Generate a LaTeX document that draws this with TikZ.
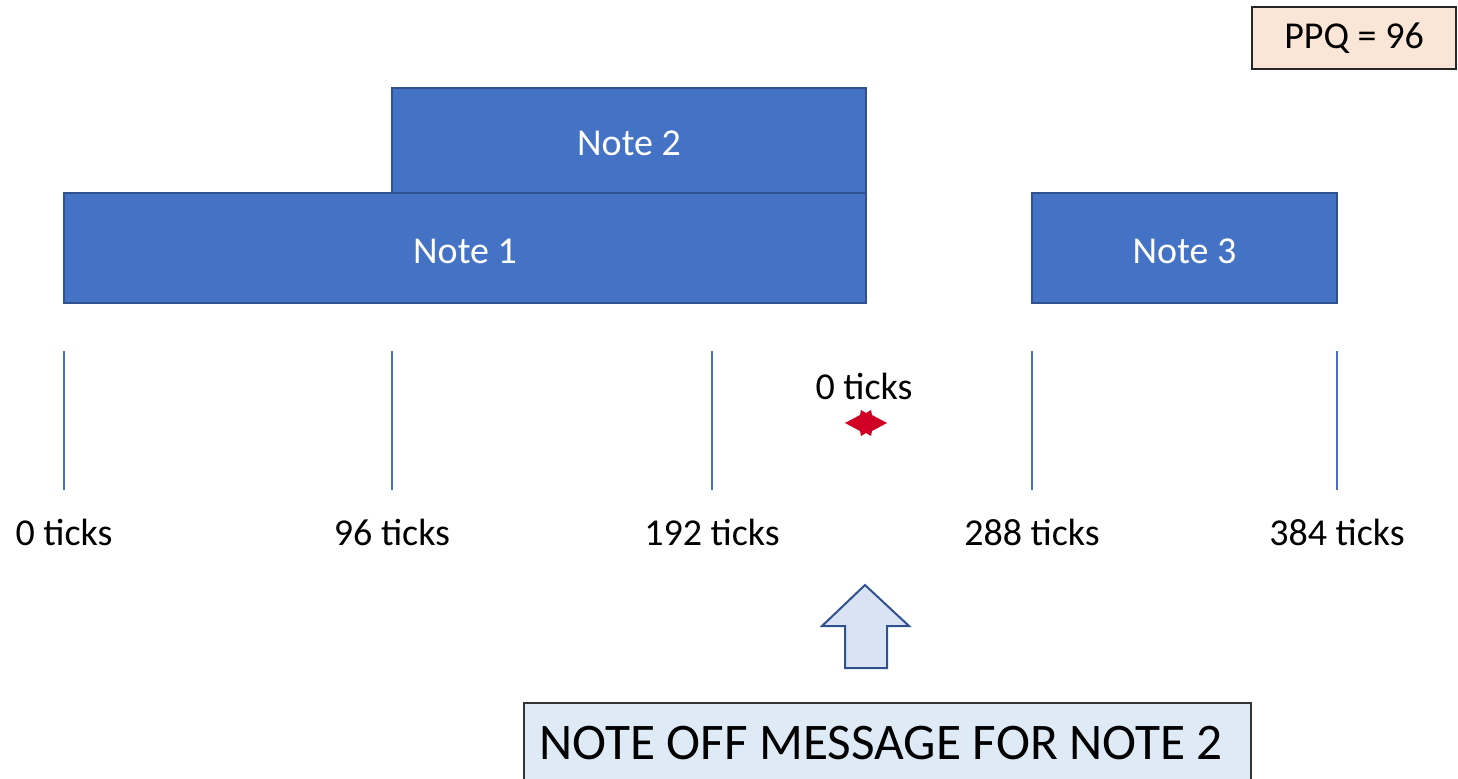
\documentclass[tikz,border=0pt]{standalone}
\usepackage{fontspec}
\setmainfont{Carlito}
\definecolor{noteblue}{HTML}{4472C4}
\definecolor{notedark}{HTML}{2F528F}
\definecolor{arrowfill}{HTML}{DAE3F3}
\definecolor{msgfill}{HTML}{DEEBF7}
\definecolor{ppqfill}{HTML}{FBE5D6}
\definecolor{zred}{RGB}{208,0,36}
\begin{document}
\begin{tikzpicture}[x=0.75pt,y=-0.75pt,
  notebox/.style={draw=notedark,fill=noteblue,line width=1.1pt,text=white,
    font=\fontsize{28.5}{34}\selectfont,inner sep=0pt,minimum height=82.5pt},
  tickline/.style={draw=noteblue,line width=0.8pt},
  ticklabel/.style={font=\fontsize{28.5}{34}\selectfont,inner sep=0pt,text=black},
  msgbox/.style={draw=black!80,fill=msgfill,line width=1pt},
  blockarrow/.style={draw=notedark,fill=arrowfill,line width=1.5pt,line join=miter}
]
\useasboundingbox (0,0) rectangle (1458,778);
\clip (0,0) rectangle (1458,778);
% PPQ box
\node[draw=black!85,fill=ppqfill,line width=0.9pt,minimum width=153pt,minimum height=46.5pt,
  font=\fontsize{28.5}{34}\selectfont,inner sep=0pt] (ppq) at (1354,38) {PPQ = 96};
% notes
\node[notebox,minimum width=355.5pt,minimum height=78.75pt] (n2) at (629,140.5) {};
\node[text=white,font=\fontsize{28.5}{34}\selectfont,inner sep=0pt] (n2t) at (629,143) {Note 2};
\node[notebox,minimum width=601.5pt] (n1) at (465,248) {};
\node[text=white,font=\fontsize{28.5}{34}\selectfont,inner sep=0pt] (n1t) at (465,251) {Note 1};
\node[notebox,minimum width=228.75pt] (n3) at (1184.5,248) {};
\node[text=white,font=\fontsize{28.5}{34}\selectfont,inner sep=0pt] (n3t) at (1184.5,251) {Note 3};
% tick lines
\foreach \x/\lab [count=\i] in {64/0,392/96,712/192,1032/288,1337/384}{
  \coordinate (t\i) at (\x,351);
  \coordinate (b\i) at (\x,490);
  \draw[tickline] (t\i) -- (b\i);
  \node[ticklabel] (l\i) at (\x,532) {\lab{} ticks};
}
% zero ticks
\node[ticklabel] (zero) at (864,386) {0 ticks};
\fill[zred] (845,423) -- (860,415) -- (861,410) -- (866,413) -- (871,410) -- (872,415)
  -- (887,423) -- (872,431) -- (871,436) -- (866,433) -- (861,436) -- (860,431) -- cycle;
% block arrow
\draw[blockarrow] (865,585) -- (909,626) -- (887,626) -- (887,668) -- (845,668)
  -- (845,626) -- (822,626) -- cycle;
% message box
\draw[msgbox] (524,703) rectangle (1251,800);
\node[anchor=west,inner sep=0pt,font=\fontsize{38.5}{46}\selectfont] (msg) at (539,743)
  {NOTE OFF MESSAGE FOR NOTE 2};
\end{tikzpicture}
\end{document}
